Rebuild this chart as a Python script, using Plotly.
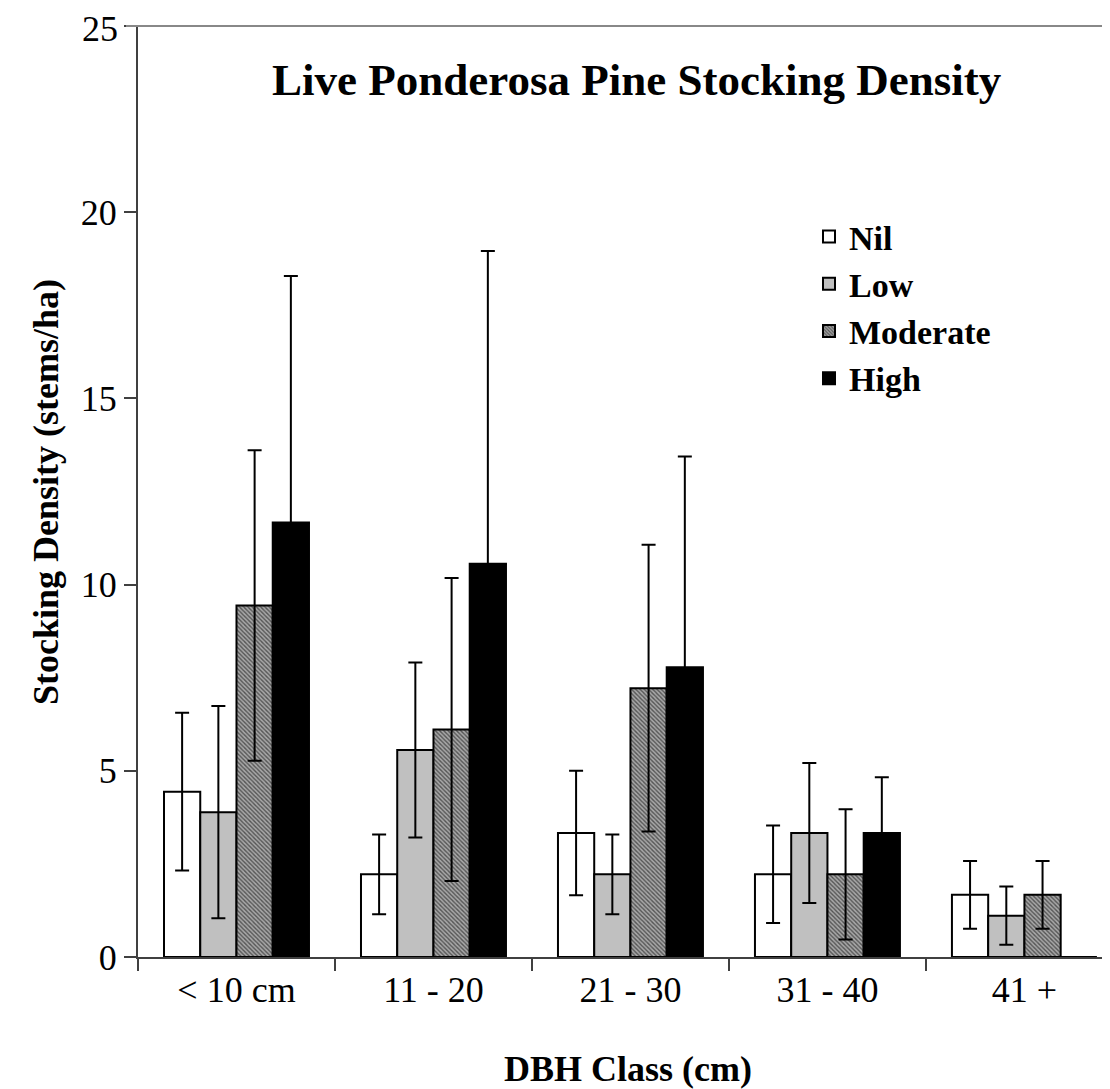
import plotly.graph_objects as go

categories = ["< 10 cm", "11 - 20", "21 - 30", "31 - 40", "41 +"]
series_names = ["Nil", "Low", "Moderate", "High"]

nil_vals = [4.44, 2.22, 3.33, 2.22, 1.67]
low_vals = [3.89, 5.56, 2.22, 3.33, 1.11]
mod_vals = [9.44, 6.11, 7.22, 2.22, 1.67]
high_vals = [11.67, 10.56, 7.78, 3.33, 0.0]

nil_err = [2.12, 1.07, 1.67, 1.31, 0.91]
low_err = [2.85, 2.35, 1.07, 1.88, 0.78]
mod_err = [4.17, 4.07, 3.85, 1.75, 0.91]
high_err = [6.62, 8.40, 5.66, 1.50, 0.0]

y_ticks = [0, 5, 10, 15, 20, 25]
y_tick_labels = ["0", "5", "10", "15", "20", "25"]

FONT = "Liberation Serif, Times New Roman, serif"

# plot-area geometry (pixels) used only to place text
L, R, T, B = 130, 1110, 18, 949
W, H = R - L, B - T

def px(x):
    return (x - L) / W

def py(y):
    return (B - y) / H

fig = go.Figure()

def add(name, vals, errs, color, pattern=None):
    marker = dict(color=color, line=dict(color="black", width=2))
    if pattern:
        marker["pattern"] = pattern
    fig.add_trace(go.Bar(
        name=name, x=categories, y=vals,
        marker=marker,
        error_y=dict(type="data", array=errs, visible=True,
                     color="black", thickness=2, width=7),
    ))

add(series_names[0], nil_vals, nil_err, "white")
add(series_names[1], low_vals, low_err, "#c0c0c0")
add(series_names[2], mod_vals, mod_err, "#ffffff",
    pattern=dict(shape="\\", fgcolor="#000000", bgcolor="#a8a8a8",
                 size=3, solidity=0.45, fillmode="overlay"))
add(series_names[3], high_vals, high_err, "black")

# the top tick label sits at the very edge of the page, so draw it as text
shown_labels = [t if v != y_ticks[-1] else "" for v, t in zip(y_ticks, y_tick_labels)]

fig.update_layout(
    width=1110, height=1089,
    margin=dict(l=L, r=0, t=T, b=1089 - B),
    plot_bgcolor="white", paper_bgcolor="white",
    barmode="group", bargap=0.264, bargroupgap=0,
    font=dict(family=FONT, size=36, color="black"),
    showlegend=True,
    legend=dict(x=px(801), y=py(200), xanchor="left", yanchor="top",
                bgcolor="rgba(0,0,0,0)",
                font=dict(family=FONT, size=34, color="black", weight="bold"),
                tracegroupgap=0, itemwidth=30),
    xaxis=dict(
        range=[-0.5, 4.475],
        showline=True, linecolor="#404040", linewidth=2,
        ticks="outside", ticklen=12, tickwidth=1.5, tickcolor="#404040",
        tickson="boundaries", showgrid=False,
        tickfont=dict(family=FONT, size=36, color="black"),
    ),
    yaxis=dict(
        range=[0, 25], tickvals=y_ticks, ticktext=shown_labels,
        showline=True, linecolor="#404040", linewidth=2,
        ticks="outside", ticklen=12, tickwidth=1.5, tickcolor="#404040",
        showgrid=False, zeroline=False,
        tickfont=dict(family=FONT, size=36, color="black"),
    ),
)

fig.add_annotation(text=y_tick_labels[-1], xref="paper", yref="y",
                   x=px(112), y=y_ticks[-1], showarrow=False,
                   xanchor="right", yanchor="top", yshift=19,
                   font=dict(family=FONT, size=36, color="black"))

fig.add_shape(type="line", xref="paper", yref="paper", x0=px(118), x1=1, y0=1, y1=1,
              line=dict(color="#888888", width=2))

fig.add_annotation(text="<b>Live Ponderosa Pine Stocking Density</b>",
                   xref="paper", yref="paper", x=px(629), y=py(72),
                   showarrow=False, xanchor="center", yanchor="middle",
                   font=dict(family=FONT, size=45, color="black"))

fig.add_annotation(text="<b>DBH Class (cm)</b>",
                   xref="paper", yref="paper", x=px(620), y=py(1061),
                   showarrow=False, xanchor="center", yanchor="middle",
                   font=dict(family=FONT, size=36, color="black"))

fig.add_annotation(text="<b>Stocking Density (stems/ha)</b>",
                   xref="paper", yref="paper", x=px(38), y=py(484),
                   showarrow=False, xanchor="center", yanchor="middle",
                   textangle=-90,
                   font=dict(family=FONT, size=36, color="black"))

fig.write_html("out.html")
